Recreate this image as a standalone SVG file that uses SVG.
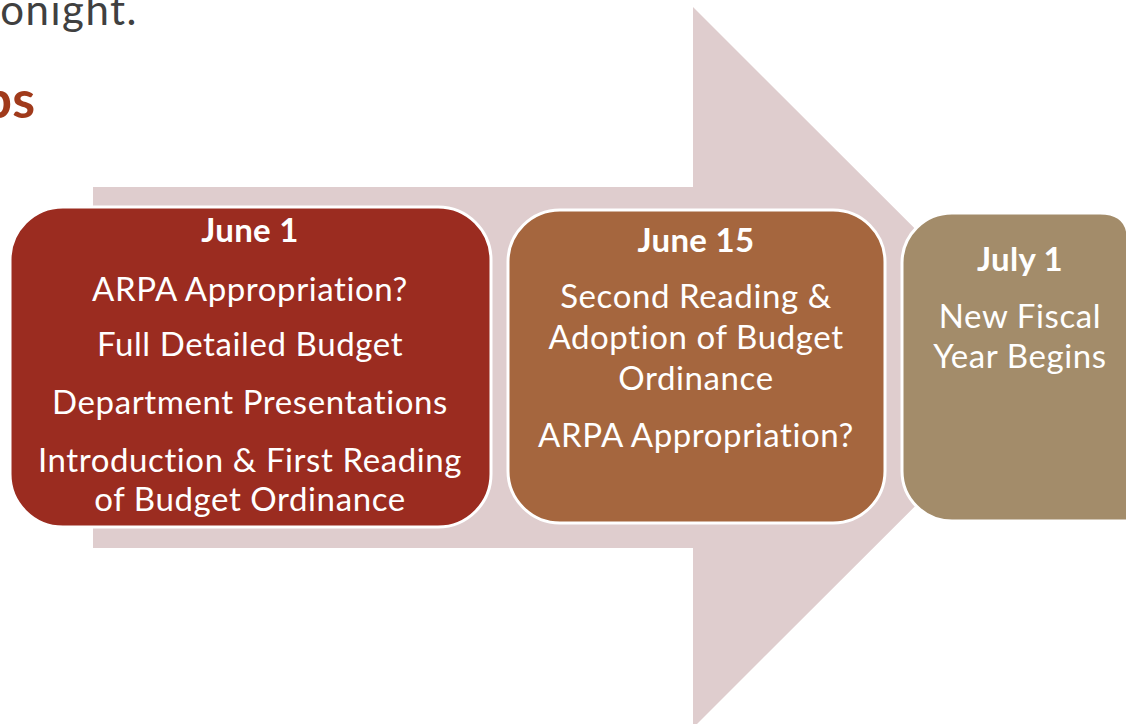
<svg xmlns="http://www.w3.org/2000/svg" width="1126" height="724" viewBox="0 0 1126 724">
<style>
.t{font-family:Lato,"Open Sans","Liberation Sans",sans-serif;fill:#ffffff;text-anchor:middle;font-size:33px;letter-spacing:0.6px}
.b{font-weight:bold;letter-spacing:0.3px}
.box{stroke:#ffffff;stroke-width:3}
</style>
<rect width="1126" height="724" fill="#ffffff"/>
<text x="138" y="25" font-family="Lato,'Open Sans',sans-serif" font-size="42" letter-spacing="1.5" fill="#404040" text-anchor="end">onight.</text>
<text x="35" y="118" font-family="Lato,'Open Sans',sans-serif" font-size="52" font-weight="bold" fill="#a03a1b" text-anchor="end">ps</text>
<g id="arrow">
<polygon points="93,187 693,187 693,7 1054,367.5 693,728 693,548 93,548" fill="#dfcdce"/>
</g>
<g id="node-june1">
<rect class="box" x="10" y="207" width="481" height="320" rx="53" fill="#9b2c20"/>
<text class="t b" x="250" y="242">June 1</text>
<text class="t" x="250" y="301">ARPA Appropriation?</text>
<text class="t" x="250" y="356">Full Detailed Budget</text>
<text class="t" x="250" y="414">Department Presentations</text>
<text class="t" x="250" y="472">Introduction &amp; First Reading</text>
<text class="t" x="250" y="511">of Budget Ordinance</text>
</g>
<g id="node-june15">
<rect class="box" x="508" y="210" width="377" height="313" rx="52" fill="#a5663e"/>
<text class="t b" x="696" y="252">June 15</text>
<text class="t" x="696" y="308">Second Reading &amp;</text>
<text class="t" x="696" y="349">Adoption of Budget</text>
<text class="t" x="696" y="390">Ordinance</text>
<text class="t" x="696" y="447">ARPA Appropriation?</text>
</g>
<g id="node-july1">
<path class="box" d="M952,213 L1100,213 Q1126,213 1128,235 L1128,521 L952,521 A50,50 0 0 1 902,471 L902,263 A50,50 0 0 1 952,213 Z" fill="#a38c6a"/>
<text class="t b" x="1020" y="271">July 1</text>
<text class="t" x="1020" y="328">New Fiscal</text>
<text class="t" x="1020" y="368">Year Begins</text>
</g>
<g id="connectors"></g>
</svg>
